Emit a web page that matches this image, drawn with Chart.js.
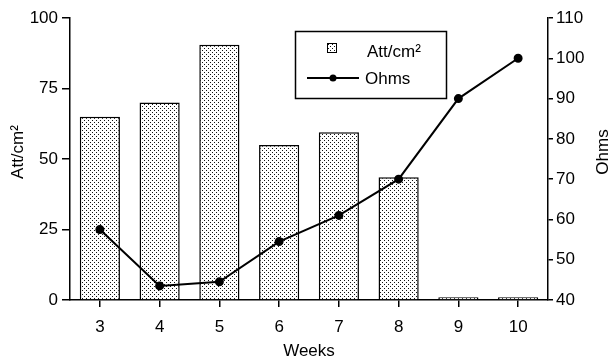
<!DOCTYPE html>
<html>
<head>
<meta charset="utf-8">
<script src="https://cdn.jsdelivr.net/npm/chart.js@4"></script>
<style>
  html, body { margin: 0; padding: 0; background: #fff; }
  #wrap { width: 610px; height: 360px; }
</style>
</head>
<body>
<div id="wrap"><canvas id="chart" width="610" height="360"></canvas></div>
<script>
// Chart data
const weeks = ['3', '4', '5', '6', '7', '8', '9', '10'];
const attValues = [65, 70, 90.5, 55, 59.5, 43.5, 1, 1];
const ohmValues = [57.5, 43.5, 44.5, 54.5, 61, 70, 90, 100];
const attTicks = [0, 25, 50, 75, 100];
const ohmTicks = [40, 50, 60, 70, 80, 90, 100, 110];

const FONT = "'Liberation Sans', Arial, sans-serif";
Chart.defaults.font.family = FONT;
Chart.defaults.font.size = 17;
Chart.defaults.color = '#000';

// Stippled fill like the scanned bars
function dotPattern() {
    const c = document.createElement('canvas');
    c.width = 4; c.height = 4;
    const g = c.getContext('2d');
    g.fillStyle = '#fff';
    g.fillRect(0, 0, 4, 4);
    g.fillStyle = '#111';
    g.fillRect(0, 0, 1, 1);
    g.fillRect(2, 2, 1, 1);
    return g.createPattern(c, 'repeat');
}

const ctx = document.getElementById('chart').getContext('2d');
const stipple = dotPattern();

// Boxed legend inside the plot, plus both axis titles read bottom-to-top
const boxLegend = {
    id: 'boxLegend',
    afterDraw(chart) {
        const c = chart.ctx;
        const ds = chart.data.datasets;
        c.save();
        c.strokeStyle = '#000';
        c.lineWidth = 1.5;
        c.fillStyle = '#fff';
        c.fillRect(295, 31, 152, 67);
        c.strokeRect(295.5, 31.5, 151, 67);

        // bar item
        c.fillStyle = stipple;
        c.fillRect(327, 43, 9, 9);
        c.lineWidth = 1;
        c.strokeRect(327.5, 43.5, 9, 9);
        c.fillStyle = '#000';
        c.font = '17px ' + FONT;
        c.textBaseline = 'middle';
        c.textAlign = 'left';
        c.fillText(ds[0].label, 367, 52);

        // line item
        c.lineWidth = 2;
        c.beginPath();
        c.moveTo(307, 78);
        c.lineTo(359, 78);
        c.stroke();
        c.beginPath();
        c.arc(333, 78, 3.5, 0, Math.PI * 2);
        c.fill();
        c.fillText(ds[1].label, 365, 79);

        // axis titles
        c.textAlign = 'center';
        c.save();
        c.translate(18, 152);
        c.rotate(-Math.PI / 2);
        c.fillText(ds[0].label, 0, 0);
        c.restore();
        c.translate(603, 152);
        c.rotate(-Math.PI / 2);
        c.fillText(ds[1].label, 0, 0);
        c.restore();
    }
};

new Chart(ctx, {
    type: 'bar',
    data: {
        labels: weeks,
        datasets: [{
            type: 'bar',
            label: 'Att/cm²',
            data: attValues,
            yAxisID: 'y',
            backgroundColor: stipple,
            borderColor: '#000',
            borderWidth: 1.5,
            barPercentage: 0.8,
            categoryPercentage: 0.84,
            order: 1
        }, {
            type: 'line',
            label: 'Ohms',
            data: ohmValues,
            yAxisID: 'y1',
            borderColor: '#000',
            backgroundColor: '#000',
            borderWidth: 2,
            pointRadius: 3.5,
            pointBackgroundColor: '#000',
            tension: 0,
            order: 0
        }]
    },
    options: {
        responsive: false,
        animation: false,
        layout: { padding: { top: 18, left: 0, right: 0, bottom: 0 } },
        plugins: {
            legend: { display: false },
            tooltip: { enabled: false }
        },
        scales: {
            x: {
                offset: true,
                grid: { display: true, offset: false, drawOnChartArea: false, drawTicks: true, tickLength: 7, color: '#000', lineWidth: 1.5 },
                border: { display: true, color: '#000', width: 1.5 },
                ticks: { padding: 10, maxRotation: 0 },
                title: { display: true, text: 'Weeks', padding: { top: 0, bottom: -2 } },
                afterFit(scale) { scale.height = 60; }
            },
            y: {
                position: 'left',
                min: 0,
                max: 100,
                afterBuildTicks(scale) { scale.ticks = attTicks.map(v => ({ value: v })); },
                grid: { display: true, drawOnChartArea: false, drawTicks: true, tickLength: 8, color: '#000', lineWidth: 1.5 },
                border: { display: true, color: '#000', width: 1.5 },
                ticks: { padding: 4 },
                afterFit(scale) { scale.width = 70; }
            },
            y1: {
                position: 'right',
                min: 40,
                max: 110,
                afterBuildTicks(scale) { scale.ticks = ohmTicks.map(v => ({ value: v })); },
                grid: { display: true, drawOnChartArea: false, drawTicks: true, tickLength: 5, color: '#000', lineWidth: 1.5 },
                border: { display: true, color: '#000', width: 1.5 },
                ticks: { padding: 3 },
                afterFit(scale) { scale.width = 62; }
            }
        }
    },
    plugins: [boxLegend]
});
</script>
</body>
</html>
